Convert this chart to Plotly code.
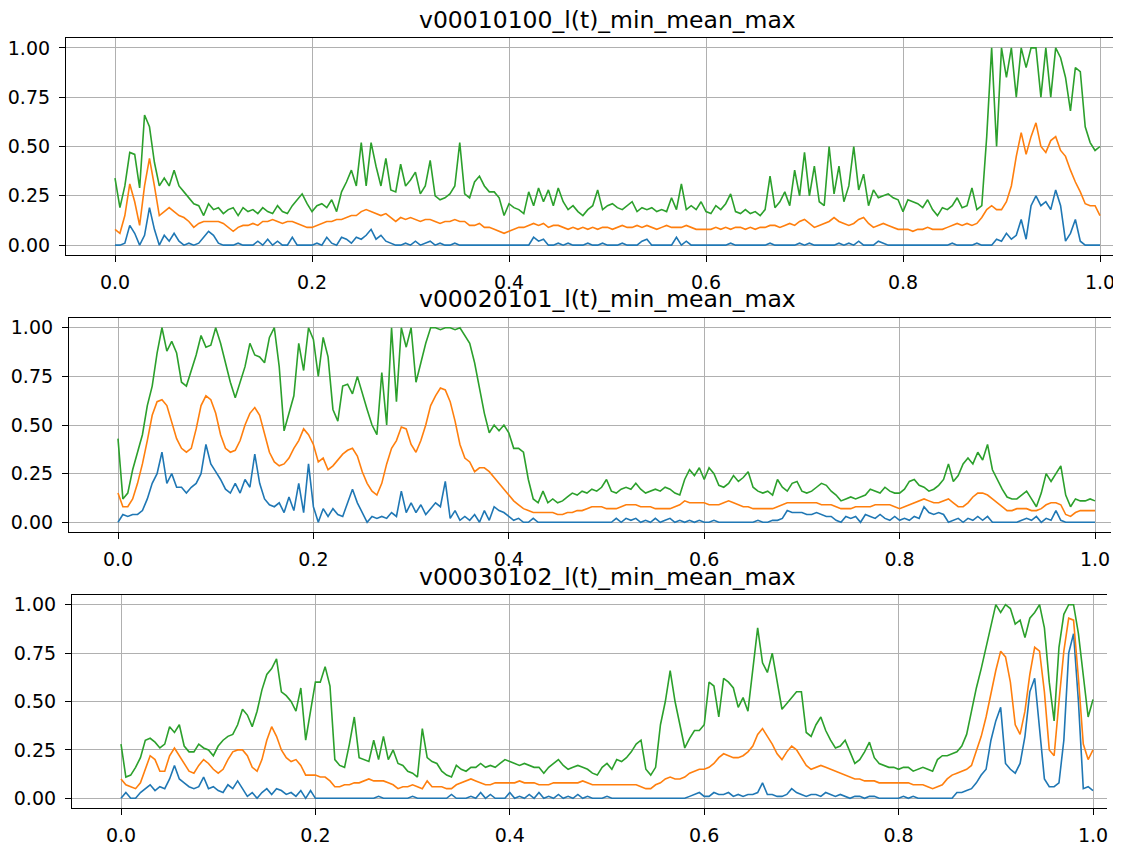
import numpy as np
import plotly.graph_objects as go

# l(t) min / mean / max per recording, sampled every 0.005 of normalised time
titles = ["v00010100_l(t)_min_mean_max",
          "v00020101_l(t)_min_mean_max",
          "v00030102_l(t)_min_mean_max"]

x_ticks = [0.0, 0.2, 0.4, 0.6, 0.8, 1.0]
y_ticks = [0.0, 0.25, 0.5, 0.75, 1.0]

min_1 = [0.00, 0.00, 0.01, 0.10, 0.06, 0.00, 0.05, 0.19, 0.08, 0.00,
         0.05, 0.02, 0.06, 0.02, 0.00, 0.01, 0.00, 0.01, 0.04, 0.07,
         0.05, 0.01, 0.00, 0.00, 0.00, 0.01, 0.00, 0.00, 0.00, 0.02,
         0.00, 0.03, 0.00, 0.02, 0.00, 0.00, 0.04, 0.00, 0.00, 0.00,
         0.00, 0.01, 0.00, 0.04, 0.01, 0.00, 0.04, 0.03, 0.01, 0.04,
         0.03, 0.05, 0.08, 0.03, 0.05, 0.02, 0.01, 0.00, 0.00, 0.01,
         0.00, 0.02, 0.00, 0.01, 0.02, 0.00, 0.01, 0.00, 0.00, 0.01,
         0.00, 0.00, 0.00, 0.00, 0.00, 0.00, 0.00, 0.00, 0.00, 0.00,
         0.00, 0.00, 0.00, 0.00, 0.00, 0.04, 0.02, 0.03, 0.00, 0.00,
         0.01, 0.00, 0.01, 0.00, 0.00, 0.00, 0.01, 0.00, 0.00, 0.01,
         0.00, 0.00, 0.00, 0.01, 0.00, 0.00, 0.00, 0.02, 0.03, 0.00,
         0.00, 0.00, 0.00, 0.00, 0.04, 0.00, 0.02, 0.00, 0.00, 0.00,
         0.00, 0.00, 0.00, 0.00, 0.00, 0.01, 0.00, 0.00, 0.00, 0.00,
         0.00, 0.00, 0.00, 0.01, 0.00, 0.00, 0.00, 0.00, 0.00, 0.01,
         0.00, 0.01, 0.00, 0.00, 0.00, 0.00, 0.00, 0.01, 0.00, 0.01,
         0.00, 0.02, 0.00, 0.00, 0.00, 0.02, 0.01, 0.00, 0.00, 0.00,
         0.00, 0.00, 0.00, 0.00, 0.00, 0.00, 0.00, 0.00, 0.00, 0.00,
         0.01, 0.00, 0.00, 0.00, 0.00, 0.01, 0.00, 0.00, 0.00, 0.03,
         0.02, 0.06, 0.03, 0.05, 0.13, 0.03, 0.20, 0.25, 0.20, 0.22,
         0.18, 0.28, 0.20, 0.02, 0.06, 0.13, 0.02, 0.00, 0.00, 0.00,
         0.00]
mean_1 = [0.08, 0.06, 0.15, 0.31, 0.22, 0.10, 0.30, 0.44, 0.30, 0.15,
          0.17, 0.19, 0.17, 0.15, 0.14, 0.12, 0.09, 0.11, 0.12, 0.12,
          0.12, 0.12, 0.11, 0.09, 0.07, 0.09, 0.10, 0.10, 0.11, 0.10,
          0.12, 0.12, 0.13, 0.12, 0.11, 0.12, 0.12, 0.11, 0.10, 0.09,
          0.09, 0.10, 0.11, 0.12, 0.12, 0.13, 0.13, 0.14, 0.15, 0.15,
          0.17, 0.18, 0.17, 0.16, 0.15, 0.16, 0.14, 0.12, 0.14, 0.13,
          0.14, 0.13, 0.12, 0.13, 0.13, 0.12, 0.11, 0.12, 0.12, 0.13,
          0.12, 0.12, 0.10, 0.10, 0.11, 0.09, 0.09, 0.08, 0.07, 0.06,
          0.07, 0.08, 0.09, 0.09, 0.10, 0.11, 0.10, 0.11, 0.09, 0.10,
          0.10, 0.09, 0.08, 0.09, 0.08, 0.09, 0.08, 0.09, 0.08, 0.09,
          0.09, 0.08, 0.09, 0.10, 0.09, 0.09, 0.10, 0.09, 0.10, 0.09,
          0.08, 0.09, 0.10, 0.09, 0.09, 0.09, 0.10, 0.09, 0.08, 0.08,
          0.08, 0.08, 0.09, 0.08, 0.09, 0.08, 0.09, 0.09, 0.08, 0.09,
          0.08, 0.09, 0.09, 0.10, 0.10, 0.09, 0.10, 0.11, 0.10, 0.12,
          0.13, 0.11, 0.09, 0.10, 0.11, 0.12, 0.14, 0.12, 0.11, 0.10,
          0.11, 0.13, 0.14, 0.11, 0.09, 0.10, 0.11, 0.10, 0.09, 0.08,
          0.08, 0.08, 0.07, 0.08, 0.08, 0.09, 0.08, 0.08, 0.08, 0.09,
          0.10, 0.11, 0.10, 0.11, 0.10, 0.11, 0.14, 0.18, 0.20, 0.18,
          0.18, 0.22, 0.30, 0.45, 0.57, 0.46, 0.55, 0.62, 0.50, 0.47,
          0.53, 0.55, 0.48, 0.45, 0.38, 0.32, 0.27, 0.21, 0.20, 0.20,
          0.15]
max_1 = [0.34, 0.19, 0.30, 0.47, 0.46, 0.29, 0.66, 0.60, 0.42, 0.30,
         0.34, 0.30, 0.38, 0.30, 0.27, 0.24, 0.21, 0.20, 0.15, 0.21,
         0.18, 0.19, 0.16, 0.18, 0.19, 0.15, 0.19, 0.17, 0.18, 0.16,
         0.19, 0.17, 0.16, 0.20, 0.17, 0.16, 0.20, 0.23, 0.26, 0.21,
         0.17, 0.20, 0.21, 0.19, 0.23, 0.17, 0.27, 0.32, 0.38, 0.30,
         0.52, 0.30, 0.52, 0.40, 0.30, 0.44, 0.28, 0.27, 0.41, 0.30,
         0.33, 0.37, 0.26, 0.30, 0.43, 0.25, 0.23, 0.24, 0.26, 0.30,
         0.52, 0.26, 0.24, 0.32, 0.35, 0.30, 0.27, 0.27, 0.24, 0.15,
         0.21, 0.19, 0.18, 0.16, 0.27, 0.20, 0.29, 0.22, 0.28, 0.20,
         0.29, 0.22, 0.18, 0.20, 0.17, 0.15, 0.18, 0.20, 0.28, 0.18,
         0.20, 0.21, 0.19, 0.18, 0.20, 0.22, 0.17, 0.19, 0.18, 0.19,
         0.17, 0.18, 0.17, 0.24, 0.18, 0.31, 0.18, 0.20, 0.18, 0.22,
         0.17, 0.16, 0.20, 0.18, 0.21, 0.26, 0.17, 0.16, 0.18, 0.16,
         0.17, 0.15, 0.18, 0.35, 0.19, 0.22, 0.27, 0.20, 0.38, 0.25,
         0.47, 0.25, 0.40, 0.22, 0.20, 0.50, 0.26, 0.40, 0.22, 0.30,
         0.50, 0.28, 0.36, 0.20, 0.28, 0.24, 0.25, 0.26, 0.24, 0.23,
         0.17, 0.23, 0.22, 0.21, 0.19, 0.23, 0.18, 0.15, 0.19, 0.18,
         0.20, 0.24, 0.19, 0.20, 0.29, 0.18, 0.20, 0.55, 1.00, 0.50,
         1.00, 0.85, 1.00, 0.75, 1.00, 0.90, 1.00, 1.00, 0.75, 1.00,
         0.75, 1.00, 0.95, 0.85, 0.68, 0.90, 0.88, 0.60, 0.52, 0.48,
         0.50]

min_2 = [0.00, 0.04, 0.03, 0.04, 0.04, 0.06, 0.12, 0.20, 0.25, 0.36,
         0.20, 0.25, 0.18, 0.18, 0.15, 0.18, 0.20, 0.25, 0.40, 0.30,
         0.26, 0.22, 0.17, 0.15, 0.20, 0.15, 0.22, 0.18, 0.35, 0.20,
         0.12, 0.09, 0.08, 0.10, 0.05, 0.13, 0.06, 0.20, 0.05, 0.30,
         0.08, 0.00, 0.07, 0.03, 0.07, 0.04, 0.03, 0.10, 0.17, 0.10,
         0.05, 0.00, 0.03, 0.02, 0.03, 0.02, 0.05, 0.03, 0.16, 0.05,
         0.10, 0.05, 0.09, 0.04, 0.07, 0.10, 0.08, 0.21, 0.02, 0.06,
         0.01, 0.03, 0.01, 0.04, 0.00, 0.06, 0.01, 0.08, 0.06, 0.05,
         0.03, 0.01, 0.02, 0.00, 0.00, 0.02, 0.00, 0.00, 0.00, 0.00,
         0.00, 0.00, 0.00, 0.00, 0.00, 0.00, 0.00, 0.00, 0.00, 0.00,
         0.00, 0.00, 0.02, 0.00, 0.02, 0.01, 0.02, 0.00, 0.01, 0.00,
         0.02, 0.00, 0.01, 0.02, 0.00, 0.01, 0.00, 0.01, 0.00, 0.01,
         0.00, 0.00, 0.01, 0.00, 0.00, 0.00, 0.00, 0.00, 0.00, 0.00,
         0.00, 0.01, 0.00, 0.00, 0.01, 0.01, 0.02, 0.06, 0.05, 0.05,
         0.05, 0.04, 0.04, 0.05, 0.04, 0.03, 0.03, 0.01, 0.00, 0.03,
         0.02, 0.03, 0.00, 0.04, 0.03, 0.02, 0.04, 0.02, 0.01, 0.03,
         0.01, 0.02, 0.01, 0.03, 0.02, 0.08, 0.05, 0.04, 0.05, 0.04,
         0.00, 0.01, 0.02, 0.00, 0.02, 0.01, 0.03, 0.01, 0.03, 0.00,
         0.00, 0.00, 0.00, 0.00, 0.00, 0.01, 0.02, 0.01, 0.03, 0.00,
         0.02, 0.01, 0.06, 0.01, 0.00, 0.00, 0.00, 0.00, 0.00, 0.00,
         0.00]
mean_2 = [0.15, 0.08, 0.08, 0.12, 0.20, 0.30, 0.42, 0.55, 0.62, 0.63,
          0.60, 0.52, 0.43, 0.38, 0.36, 0.38, 0.48, 0.60, 0.65, 0.63,
          0.56, 0.45, 0.38, 0.36, 0.37, 0.42, 0.50, 0.56, 0.59, 0.55,
          0.45, 0.36, 0.31, 0.29, 0.30, 0.33, 0.38, 0.42, 0.48, 0.45,
          0.40, 0.31, 0.33, 0.27, 0.29, 0.32, 0.35, 0.37, 0.38, 0.34,
          0.26, 0.20, 0.16, 0.14, 0.20, 0.30, 0.38, 0.42, 0.49, 0.48,
          0.40, 0.36, 0.42, 0.50, 0.60, 0.65, 0.69, 0.68, 0.62, 0.52,
          0.40, 0.33, 0.31, 0.26, 0.28, 0.28, 0.26, 0.23, 0.20, 0.17,
          0.14, 0.11, 0.09, 0.07, 0.06, 0.05, 0.05, 0.05, 0.05, 0.05,
          0.04, 0.04, 0.05, 0.05, 0.06, 0.06, 0.07, 0.08, 0.08, 0.08,
          0.07, 0.07, 0.07, 0.08, 0.09, 0.09, 0.09, 0.08, 0.08, 0.08,
          0.07, 0.07, 0.07, 0.07, 0.08, 0.09, 0.11, 0.10, 0.10, 0.10,
          0.10, 0.09, 0.09, 0.09, 0.10, 0.11, 0.10, 0.09, 0.08, 0.08,
          0.07, 0.07, 0.07, 0.07, 0.07, 0.08, 0.09, 0.10, 0.10, 0.10,
          0.10, 0.10, 0.10, 0.10, 0.09, 0.09, 0.09, 0.08, 0.07, 0.07,
          0.07, 0.08, 0.08, 0.08, 0.08, 0.09, 0.09, 0.09, 0.09, 0.08,
          0.07, 0.08, 0.09, 0.10, 0.11, 0.12, 0.11, 0.10, 0.10, 0.11,
          0.12, 0.10, 0.08, 0.08, 0.10, 0.13, 0.15, 0.15, 0.14, 0.12,
          0.10, 0.08, 0.06, 0.06, 0.07, 0.07, 0.07, 0.06, 0.06, 0.07,
          0.09, 0.10, 0.10, 0.09, 0.04, 0.03, 0.05, 0.06, 0.06, 0.06,
          0.06]
max_2 = [0.43, 0.12, 0.15, 0.27, 0.36, 0.45, 0.60, 0.70, 0.87, 1.00,
         0.88, 0.93, 0.87, 0.72, 0.70, 0.78, 0.86, 0.96, 0.90, 0.91,
         1.00, 0.92, 0.82, 0.72, 0.64, 0.72, 0.80, 0.92, 0.86, 0.85,
         0.82, 0.95, 1.00, 0.80, 0.47, 0.56, 0.65, 0.92, 0.78, 1.00,
         0.94, 0.75, 0.95, 0.85, 0.58, 0.52, 0.70, 0.71, 0.66, 0.75,
         0.66, 0.58, 0.50, 0.45, 0.77, 0.50, 1.00, 0.62, 1.00, 0.90,
         1.00, 0.72, 0.82, 0.92, 1.00, 1.00, 0.99, 1.00, 1.00, 0.99,
         1.00, 0.96, 0.92, 0.82, 0.68, 0.56, 0.46, 0.50, 0.47, 0.50,
         0.46, 0.38, 0.38, 0.36, 0.22, 0.12, 0.10, 0.16, 0.10, 0.12,
         0.10, 0.11, 0.13, 0.15, 0.14, 0.16, 0.15, 0.17, 0.16, 0.18,
         0.22, 0.16, 0.15, 0.17, 0.18, 0.17, 0.20, 0.17, 0.15, 0.16,
         0.17, 0.16, 0.18, 0.17, 0.15, 0.14, 0.22, 0.27, 0.24, 0.28,
         0.22, 0.28, 0.25, 0.19, 0.18, 0.20, 0.24, 0.21, 0.23, 0.26,
         0.18, 0.16, 0.15, 0.16, 0.14, 0.22, 0.18, 0.16, 0.20, 0.21,
         0.16, 0.15, 0.16, 0.18, 0.20, 0.19, 0.16, 0.14, 0.11, 0.12,
         0.13, 0.12, 0.13, 0.14, 0.17, 0.16, 0.15, 0.18, 0.16, 0.15,
         0.15, 0.17, 0.21, 0.22, 0.19, 0.18, 0.16, 0.17, 0.19, 0.22,
         0.30, 0.21, 0.24, 0.30, 0.33, 0.30, 0.36, 0.32, 0.40, 0.27,
         0.22, 0.17, 0.13, 0.12, 0.12, 0.14, 0.16, 0.12, 0.08, 0.15,
         0.25, 0.21, 0.25, 0.29, 0.14, 0.08, 0.12, 0.11, 0.11, 0.12,
         0.11]

min_3 = [0.00, 0.03, 0.00, 0.00, 0.03, 0.05, 0.07, 0.04, 0.06, 0.05,
         0.10, 0.17, 0.10, 0.08, 0.06, 0.05, 0.06, 0.11, 0.05, 0.06,
         0.04, 0.03, 0.07, 0.05, 0.09, 0.05, 0.01, 0.03, 0.00, 0.03,
         0.05, 0.02, 0.05, 0.04, 0.02, 0.03, 0.01, 0.04, 0.00, 0.04,
         0.00, 0.00, 0.00, 0.00, 0.00, 0.00, 0.00, 0.00, 0.00, 0.00,
         0.00, 0.00, 0.00, 0.01, 0.00, 0.00, 0.00, 0.00, 0.00, 0.00,
         0.01, 0.00, 0.00, 0.00, 0.00, 0.00, 0.00, 0.00, 0.02, 0.00,
         0.00, 0.00, 0.01, 0.00, 0.03, 0.00, 0.02, 0.00, 0.00, 0.00,
         0.03, 0.00, 0.01, 0.00, 0.02, 0.00, 0.03, 0.00, 0.01, 0.00,
         0.02, 0.00, 0.01, 0.00, 0.02, 0.00, 0.01, 0.00, 0.00, 0.00,
         0.01, 0.00, 0.00, 0.00, 0.00, 0.00, 0.00, 0.00, 0.00, 0.00,
         0.00, 0.00, 0.00, 0.00, 0.00, 0.00, 0.00, 0.01, 0.02, 0.03,
         0.01, 0.01, 0.03, 0.02, 0.02, 0.03, 0.01, 0.02, 0.01, 0.02,
         0.02, 0.03, 0.08, 0.02, 0.02, 0.01, 0.01, 0.02, 0.05, 0.03,
         0.02, 0.01, 0.02, 0.02, 0.01, 0.03, 0.02, 0.01, 0.02, 0.01,
         0.00, 0.01, 0.01, 0.00, 0.01, 0.01, 0.00, 0.00, 0.00, 0.00,
         0.00, 0.01, 0.00, 0.01, 0.00, 0.00, 0.00, 0.00, 0.00, 0.00,
         0.00, 0.00, 0.03, 0.03, 0.04, 0.05, 0.08, 0.12, 0.15, 0.30,
         0.40, 0.47, 0.18, 0.15, 0.13, 0.18, 0.32, 0.55, 0.62, 0.35,
         0.10, 0.06, 0.06, 0.08, 0.30, 0.75, 0.85, 0.50, 0.05, 0.06,
         0.04]
mean_3 = [0.10, 0.07, 0.06, 0.05, 0.08, 0.15, 0.22, 0.20, 0.14, 0.14,
          0.22, 0.26, 0.22, 0.18, 0.14, 0.13, 0.17, 0.20, 0.18, 0.15,
          0.13, 0.15, 0.20, 0.24, 0.25, 0.25, 0.22, 0.16, 0.14, 0.20,
          0.30, 0.37, 0.32, 0.25, 0.21, 0.19, 0.20, 0.17, 0.12, 0.12,
          0.12, 0.11, 0.11, 0.09, 0.06, 0.06, 0.07, 0.07, 0.08, 0.08,
          0.09, 0.10, 0.09, 0.09, 0.09, 0.08, 0.07, 0.05, 0.06, 0.06,
          0.07, 0.06, 0.05, 0.09, 0.06, 0.06, 0.06, 0.05, 0.05, 0.07,
          0.08, 0.09, 0.10, 0.09, 0.08, 0.07, 0.07, 0.08, 0.08, 0.08,
          0.08, 0.08, 0.09, 0.08, 0.08, 0.08, 0.07, 0.07, 0.07, 0.08,
          0.08, 0.08, 0.08, 0.08, 0.08, 0.09, 0.08, 0.07, 0.07, 0.07,
          0.07, 0.07, 0.07, 0.07, 0.07, 0.07, 0.07, 0.06, 0.05, 0.05,
          0.07, 0.08, 0.10, 0.11, 0.10, 0.10, 0.11, 0.13, 0.14, 0.15,
          0.15, 0.16, 0.18, 0.21, 0.23, 0.22, 0.21, 0.21, 0.22, 0.24,
          0.27, 0.33, 0.36, 0.32, 0.28, 0.23, 0.20, 0.24, 0.27, 0.25,
          0.21, 0.17, 0.15, 0.16, 0.17, 0.16, 0.15, 0.14, 0.13, 0.12,
          0.11, 0.10, 0.10, 0.09, 0.09, 0.09, 0.08, 0.08, 0.08, 0.08,
          0.08, 0.08, 0.08, 0.07, 0.07, 0.07, 0.06, 0.05, 0.06, 0.07,
          0.10, 0.12, 0.13, 0.14, 0.15, 0.17, 0.24, 0.32, 0.42, 0.55,
          0.66, 0.76, 0.73, 0.60, 0.38, 0.33, 0.45, 0.64, 0.78, 0.76,
          0.55, 0.25, 0.22, 0.50, 0.76, 0.93, 0.92, 0.62, 0.28, 0.20,
          0.25]
max_3 = [0.28, 0.11, 0.12, 0.16, 0.21, 0.30, 0.31, 0.29, 0.26, 0.28,
         0.37, 0.34, 0.38, 0.27, 0.24, 0.24, 0.28, 0.26, 0.25, 0.22,
         0.27, 0.30, 0.32, 0.33, 0.38, 0.46, 0.43, 0.37, 0.45, 0.56,
         0.64, 0.67, 0.72, 0.55, 0.53, 0.50, 0.45, 0.57, 0.30, 0.45,
         0.60, 0.60, 0.68, 0.58, 0.20, 0.17, 0.16, 0.28, 0.42, 0.21,
         0.20, 0.19, 0.30, 0.20, 0.32, 0.20, 0.25, 0.18, 0.17, 0.14,
         0.13, 0.11, 0.36, 0.21, 0.19, 0.18, 0.14, 0.12, 0.11, 0.17,
         0.15, 0.14, 0.16, 0.16, 0.18, 0.16, 0.17, 0.16, 0.18, 0.20,
         0.19, 0.18, 0.17, 0.18, 0.17, 0.16, 0.16, 0.13, 0.16, 0.18,
         0.20, 0.17, 0.15, 0.16, 0.17, 0.16, 0.15, 0.13, 0.12, 0.16,
         0.18, 0.15, 0.20, 0.19, 0.21, 0.24, 0.28, 0.30, 0.15, 0.12,
         0.16, 0.38, 0.50, 0.66, 0.50, 0.38, 0.26, 0.31, 0.35, 0.35,
         0.38, 0.60, 0.58, 0.42, 0.62, 0.60, 0.57, 0.47, 0.52, 0.45,
         0.65, 0.88, 0.70, 0.65, 0.75, 0.60, 0.46, 0.49, 0.52, 0.55,
         0.55, 0.34, 0.32, 0.38, 0.42, 0.35, 0.30, 0.26, 0.27, 0.30,
         0.24, 0.18, 0.20, 0.24, 0.29, 0.21, 0.18, 0.17, 0.16, 0.16,
         0.15, 0.16, 0.16, 0.14, 0.15, 0.16, 0.15, 0.14, 0.20, 0.22,
         0.22, 0.23, 0.24, 0.27, 0.33, 0.45, 0.57, 0.67, 0.78, 0.90,
         1.00, 0.96, 1.00, 0.98, 0.90, 0.92, 0.83, 0.93, 0.96, 1.00,
         0.88, 0.60, 0.40, 0.78, 0.95, 1.00, 1.00, 0.85, 0.62, 0.42,
         0.51]

panels = [(min_1, mean_1, max_1), (min_2, mean_2, max_2), (min_3, mean_3, max_3)]
colors = ["#1f77b4", "#ff7f0e", "#2ca02c"]

# the page body has an 8px margin, so the figure is 8px smaller and shifted
OFF = 8
W, H = 1121 - OFF, 848 - OFF
# the screenshot is slightly skewed, so each panel gets its own frame (page pixels):
# left spine, right clip, x=0 position, pixels per unit, top spine, bottom spine, title centre
frames = [(66, 1113, 115, 985, 38, 255, 20),
          (69, 1111, 118, 977, 318, 532, 299),
          (72, 1107, 121, 972, 595, 808, 577)]

font = "DejaVu Sans"
fig = go.Figure()
layout = {}
for i, (series, frame) in enumerate(zip(panels, frames)):
    n = "" if i == 0 else str(i + 1)
    for vals, col in zip(series, colors):
        t = np.linspace(0, 1, len(vals))
        fig.add_trace(go.Scatter(x=t, y=vals, mode="lines", line=dict(color=col, width=1.6),
                                 xaxis="x" + n, yaxis="y" + n, showlegend=False))
    left, right, x0, scale, top, bottom, ty = frame
    left, right, x0, top, bottom, ty = [v - OFF for v in (left, right, x0, top, bottom, ty)]
    layout["xaxis" + n] = dict(
        domain=[left / W, right / W], range=[-(x0 - left) / scale, (right - x0) / scale],
        anchor="y" + n, tickvals=x_ticks, ticktext=["%.1f" % v for v in x_ticks],
        showgrid=True, gridcolor="#b0b0b0", gridwidth=1, zeroline=False,
        showline=True, linecolor="black", linewidth=1.2, mirror=True,
        ticks="outside", ticklen=6, tickcolor="black", automargin=False,
        ticklabelstandoff=4,
        tickfont=dict(family=font, size=19, color="black"))
    layout["yaxis" + n] = dict(
        domain=[1 - bottom / H, 1 - top / H], range=[-0.05, 1.05],
        anchor="x" + n, tickvals=y_ticks, ticktext=["%.2f" % v for v in y_ticks],
        showgrid=True, gridcolor="#b0b0b0", gridwidth=1, zeroline=False,
        showline=True, linecolor="black", linewidth=1.2,
        ticks="outside", ticklen=6, tickcolor="black", automargin=False,
        ticklabelstandoff=5,
        tickfont=dict(family=font, size=19, color="black"))
    fig.add_annotation(text=titles[i], xref="paper", yref="paper",
                       x=(607 - OFF) / W, y=1 - ty / H,
                       xanchor="center", yanchor="middle", showarrow=False,
                       font=dict(family=font, size=23.5, color="black"))

fig.update_layout(**layout)
fig.update_layout(width=W, height=H, margin=dict(l=0, r=0, t=0, b=0),
                  paper_bgcolor="white", plot_bgcolor="white")
fig.write_html("out.html")
